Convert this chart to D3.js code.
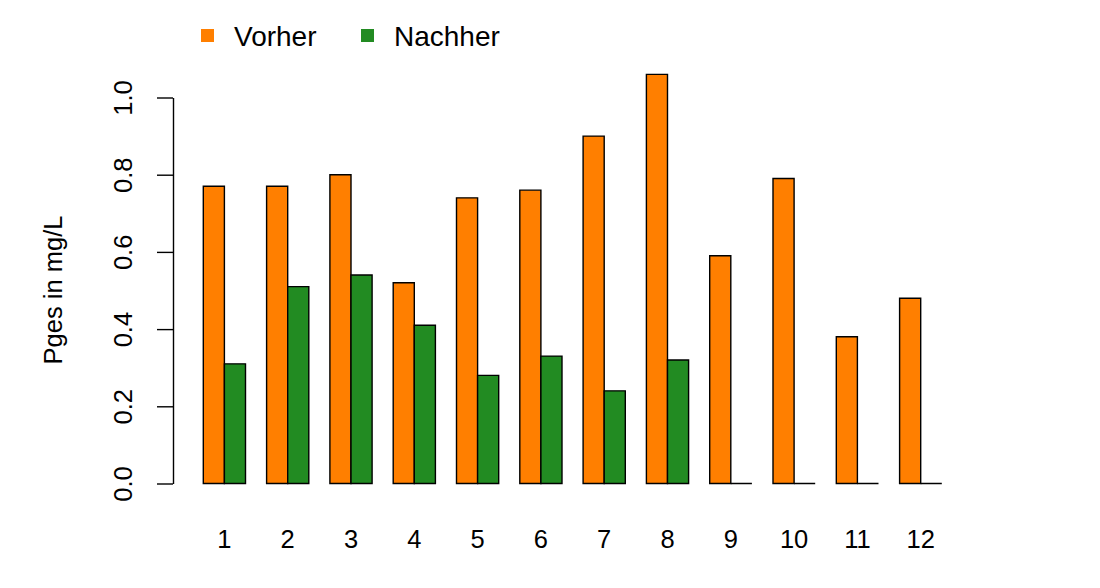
<!DOCTYPE html>
<html>
<head>
<meta charset="utf-8">
<script src="https://cdn.jsdelivr.net/npm/d3@7"></script>
<style>
  body { margin: 0; background: #fff; }
  svg text { font-family: "Liberation Sans", Arial, sans-serif; fill: #000; }
</style>
</head>
<body>
<div id="chart"></div>
<script>
// data
var categories = ['1', '2', '3', '4', '5', '6', '7', '8', '9', '10', '11', '12'];
var vorher = [0.77, 0.77, 0.80, 0.52, 0.74, 0.76, 0.90, 1.06, 0.59, 0.79, 0.38, 0.48];
var nachher = [0.31, 0.51, 0.54, 0.41, 0.28, 0.33, 0.24, 0.32, 0, 0, 0, 0];
var seriesNames = ['Vorher', 'Nachher'];
var yTicks = [0, 0.2, 0.4, 0.6, 0.8, 1.0];

var colors = { Vorher: '#ff7f00', Nachher: '#228b22' };

var width = 1100, height = 588;

var svg = d3.select('#chart').append('svg')
    .attr('width', width)
    .attr('height', height);

//barplot units: each group = 1 space + 2 bars
var x = d3.scaleLinear().domain([0, categories.length * 3]).range([182.2, 941.8]);
var y = d3.scaleLinear().domain([0, 1]).range([483.5, 97.5]);

var groups = categories.map(function(c, i) {
    return {
        label: c,
        start: i * 3 + 1,
        values: [vorher[i], nachher[i]]
    };
});

//bars as paths so zero height still draws a line
var g = svg.append('g');
groups.forEach(function(grp) {
    grp.values.forEach(function(v, j) {
        var x0 = x(grp.start + j), x1 = x(grp.start + j + 1);
        var y0 = y(0), y1 = y(v);
        g.append('path')
            .attr('d', 'M' + x0 + ',' + y0 + 'V' + y1 + 'H' + x1 + 'V' + y0 + 'Z')
            .attr('fill', colors[seriesNames[j]])
            .attr('stroke', '#000')
            .attr('stroke-width', 1.4);
    });
});

//y axis
var yAxis = svg.append('g')
    .attr('transform', 'translate(173,0)')
    .call(d3.axisLeft(y).tickValues(yTicks).tickSize(16).tickSizeOuter(0).tickFormat(d3.format('.1f')));
yAxis.select('.domain').attr('stroke', '#000').attr('stroke-width', 1.4);
yAxis.selectAll('.tick line').attr('stroke', '#000').attr('stroke-width', 1.4);
yAxis.selectAll('.tick text')
    .attr('x', null).attr('dy', null)
    .attr('transform', 'translate(-41,0) rotate(-90)')
    .attr('text-anchor', 'middle')
    .style('font-size', '25.5px')
    .style('font-family', '"Liberation Sans", Arial, sans-serif')
    .attr('fill', '#000');

//x labels
svg.append('g').selectAll('text').data(groups).enter().append('text')
    .attr('x', function(d) { return x(d.start + 1); })
    .attr('y', 548)
    .attr('text-anchor', 'middle')
    .style('font-size', '25.5px')
    .text(function(d) { return d.label; });

//y title
svg.append('text')
    .attr('transform', 'translate(62,290) rotate(-90)')
    .attr('text-anchor', 'middle')
    .style('font-size', '25.5px')
    .text('Pges in mg/L');

//legend
var legendX = [201, 361];
var legend = svg.append('g').selectAll('g').data(seriesNames).enter().append('g')
    .attr('transform', function(d, i) { return 'translate(' + legendX[i] + ',0)'; });
legend.append('rect')
    .attr('x', 0).attr('y', 29)
    .attr('width', 13).attr('height', 13)
    .attr('fill', function(d) { return colors[d]; });
legend.append('text')
    .attr('x', 33).attr('y', 46)
    .style('font-size', '28px')
    .text(function(d) { return d; });
</script>
</body>
</html>
